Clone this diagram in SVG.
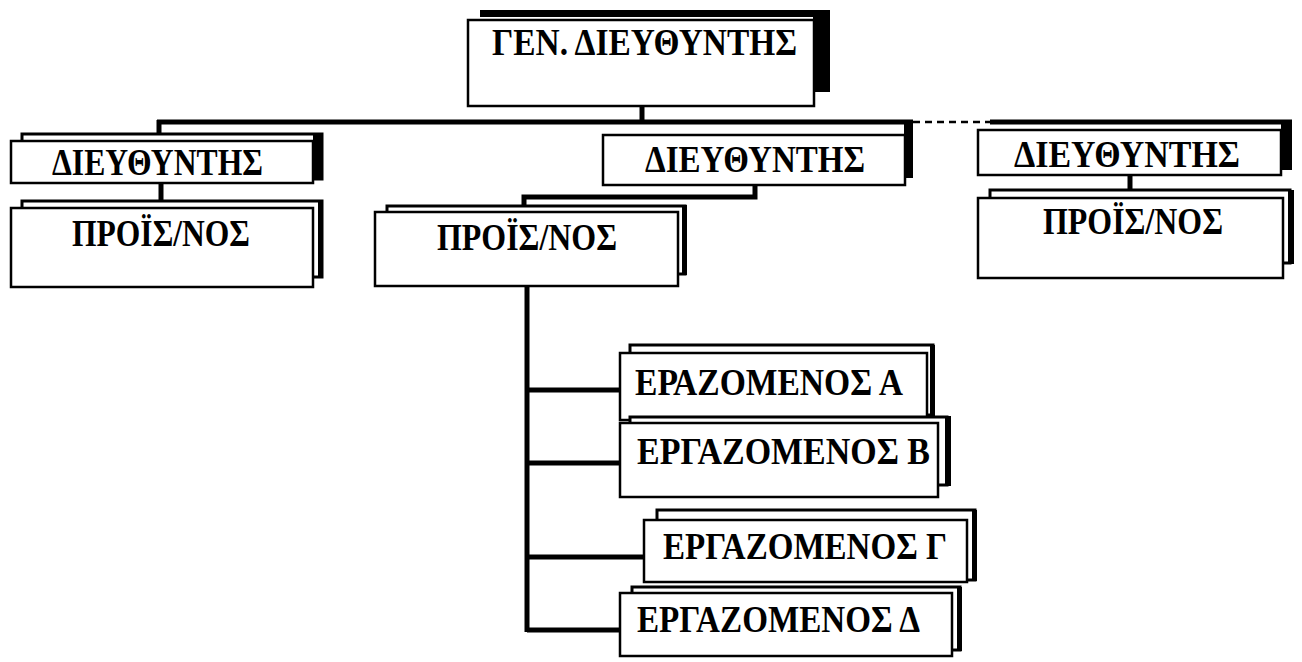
<svg xmlns="http://www.w3.org/2000/svg" width="1302" height="662" viewBox="0 0 1302 662">
<style>
.front{fill:#fff;stroke:#000;stroke-width:2.5}
.back{fill:#fff;stroke:#000;stroke-width:3}
.sh{fill:#000}
.t{font-family:"Liberation Serif","DejaVu Serif",serif;font-weight:bold;font-size:38px;fill:#000}
.c{stroke:#000;stroke-width:5;fill:none}
.cd{stroke:#000;stroke-width:2.5;fill:none;stroke-dasharray:7 5}
</style>
<rect width="1302" height="662" fill="#fff"/>
<g id="connectors">
<path class="c" d="M642,104 V122"/>
<path class="c" d="M157,122 H913"/>
<path class="cd" d="M913,122 H990"/>
<path class="c" d="M990,122 H1292"/>
<path class="c" d="M159,120 V135"/>
<path class="c" d="M161,183 V203"/>
<path class="c" d="M755,185 V197 H524 V207"/>
<path class="c" d="M1130,175 V192"/>
<path class="c" d="M527,286 V632"/>
<path class="c" d="M527,390 H620"/>
<path class="c" d="M527,463 H620"/>
<path class="c" d="M527,557 H644"/>
<path class="c" d="M527,630 H620"/>
</g>
<g id="gen">
<rect class="sh" x="480" y="10" width="350" height="7"/>
<rect class="sh" x="813" y="10" width="17" height="82"/>
<rect class="front" x="468" y="20" width="346" height="86"/>
<text class="t" x="492" y="55" textLength="305" lengthAdjust="spacingAndGlyphs">ΓΕΝ. ΔΙΕΥΘΥΝΤΗΣ</text>
</g>
<g id="dir-left">
<rect class="back" x="22" y="134" width="300" height="45"/>
<rect class="sh" x="313" y="133" width="10" height="47"/>
<rect class="front" x="11" y="141" width="302" height="42"/>
<text class="t" x="52" y="175" textLength="211" lengthAdjust="spacingAndGlyphs">ΔΙΕΥΘΥΝΤΗΣ</text>
</g>
<g id="pro-left">
<rect class="back" x="22" y="201" width="300" height="76"/>
<rect class="sh" x="318" y="201" width="5" height="77"/>
<rect class="front" x="11" y="208" width="302" height="79"/>
<text class="t" x="72" y="246" textLength="178" lengthAdjust="spacingAndGlyphs">ΠΡΟΪΣ/ΝΟΣ</text>
</g>
<g id="dir-mid">
<rect class="sh" x="904" y="120" width="9" height="58"/>
<rect class="front" x="603" y="135" width="302" height="50"/>
<text class="t" x="645" y="172" textLength="220" lengthAdjust="spacingAndGlyphs">ΔΙΕΥΘΥΝΤΗΣ</text>
</g>
<g id="pro-mid">
<rect class="back" x="387" y="206" width="298" height="68"/>
<rect class="sh" x="682" y="205" width="5" height="70"/>
<rect class="front" x="375" y="212" width="303" height="74"/>
<text class="t" x="437" y="250" textLength="180" lengthAdjust="spacingAndGlyphs">ΠΡΟΪΣ/ΝΟΣ</text>
</g>
<g id="dir-right">
<rect class="sh" x="1281" y="120" width="11" height="50"/>
<rect class="front" x="978" y="130" width="303" height="45"/>
<text class="t" x="1014" y="167" textLength="226" lengthAdjust="spacingAndGlyphs">ΔΙΕΥΘΥΝΤΗΣ</text>
</g>
<g id="pro-right">
<rect class="back" x="990" y="190" width="300" height="73"/>
<rect class="sh" x="1288" y="190" width="6" height="74"/>
<rect class="front" x="978" y="198" width="305" height="80"/>
<text class="t" x="1043" y="234" textLength="180" lengthAdjust="spacingAndGlyphs">ΠΡΟΪΣ/ΝΟΣ</text>
</g>
<g id="emp-a">
<rect class="back" x="630" y="345" width="303" height="70"/>
<rect class="sh" x="930" y="345" width="5" height="71"/>
<rect class="front" x="620" y="353" width="307" height="67"/>
<text class="t" x="635" y="395" textLength="268" lengthAdjust="spacingAndGlyphs">ΕΡΑΖΟΜΕΝΟΣ Α</text>
</g>
<g id="emp-b">
<rect class="back" x="630" y="417" width="317" height="68"/>
<rect class="sh" x="945" y="416" width="6" height="70"/>
<rect class="front" x="620" y="423" width="318" height="74"/>
<text class="t" x="637" y="464" textLength="293" lengthAdjust="spacingAndGlyphs">ΕΡΓΑΖΟΜΕΝΟΣ Β</text>
</g>
<g id="emp-c">
<rect class="back" x="657" y="510" width="318" height="70"/>
<rect class="sh" x="972" y="510" width="5" height="71"/>
<rect class="front" x="644" y="520" width="323" height="62"/>
<text class="t" x="663" y="559" textLength="284" lengthAdjust="spacingAndGlyphs">ΕΡΓΑΖΟΜΕΝΟΣ Γ</text>
</g>
<g id="emp-d">
<rect class="back" x="632" y="587" width="328" height="63"/>
<rect class="sh" x="957" y="587" width="5" height="64"/>
<rect class="front" x="620" y="593" width="332" height="63"/>
<text class="t" x="637" y="632" textLength="283" lengthAdjust="spacingAndGlyphs">ΕΡΓΑΖΟΜΕΝΟΣ Δ</text>
</g>
</svg>
